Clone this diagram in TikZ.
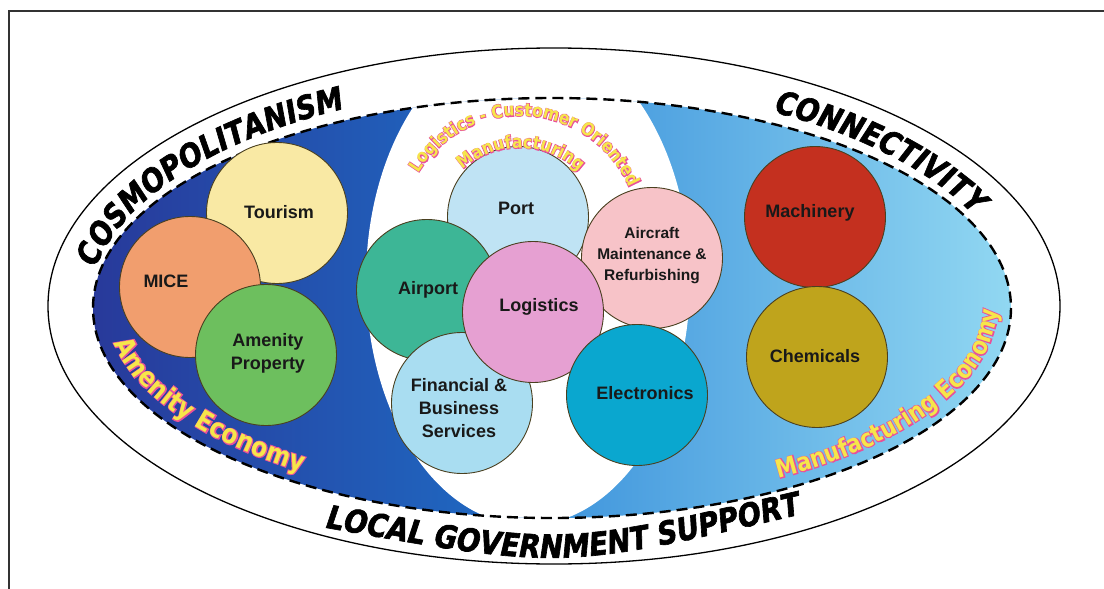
\documentclass[tikz,border=0pt]{standalone}
\usepackage{fontspec}
\setmainfont{Liberation Sans}
\newfontface\bandface[FakeStretch=0.86,FakeSlant=0.15,FakeBold=2]{DejaVu Sans Bold}
\newfontface\econface[FakeStretch=0.86]{DejaVu Sans Bold}
\newfontface\rimface[FakeStretch=0.86,FakeBold=7]{DejaVu Sans Bold}
\usetikzlibrary{decorations.text}

\definecolor{deepblue}{HTML}{28399A}
\definecolor{midblue}{HTML}{1E6EC6}
\definecolor{skyblue}{HTML}{3E94DC}
\definecolor{paleblue}{HTML}{92D8F2}
\definecolor{rimline}{HTML}{4A4020}
\definecolor{pinkedge}{HTML}{E8509A}
\definecolor{yellowfill}{HTML}{F6E64A}
\definecolor{tourismc}{HTML}{F9E9A4}
\definecolor{micec}{HTML}{F19E6E}
\definecolor{amenityc}{HTML}{6DBF5E}
\definecolor{portc}{HTML}{BFE3F4}
\definecolor{airportc}{HTML}{3DB696}
\definecolor{aircraftc}{HTML}{F7C3C8}
\definecolor{logisticsc}{HTML}{E6A0D2}
\definecolor{financec}{HTML}{A9DDF1}
\definecolor{electronc}{HTML}{0AA7CF}
\definecolor{machineryc}{HTML}{C4301F}
\definecolor{chemicalc}{HTML}{BFA41C}

\begin{document}
\begin{tikzpicture}[x=1pt,y=-1pt,
  blob/.style={circle,draw=rimline,line width=0.9pt,minimum size=141pt,inner sep=0pt},
  tag/.style={inner sep=0pt,align=center,text=black!90,font=\bfseries\fontsize{18}{23}\selectfont},
  smalltag/.style={tag,font=\bfseries\fontsize{15.5}{21}\selectfont},
  bandtext/.style={decorate,decoration={text along path,text align=center,
    text={|\bandface\fontsize{32}{32}\selectfont|#1}}},
  rimtext/.style 2 args={decorate,decoration={text along path,text align=center,
    text color=pinkedge,text={|\rimface\fontsize{#1}{#1}\selectfont|#2}}},
  facetext/.style 2 args={decorate,decoration={text along path,text align=center,
    text color=yellowfill,text={|\econface\fontsize{#1}{#1}\selectfont|#2}}}]
  \useasboundingbox (0,0) rectangle (1104,589);
  \draw[line width=1.5pt,black!80] (9,589) -- (9,11) -- (1104,11);

  % outer ring and the two economies
  \draw[line width=1.3pt] (554,306) ellipse[x radius=506,y radius=258];
  \begin{scope}
    \clip (552,308) ellipse[x radius=459,y radius=210];
    \shade[left color=deepblue,right color=midblue] (90,90) rectangle (545,525);
    \shade[left color=skyblue,right color=paleblue] (545,90) rectangle (1015,525);
    \fill[white] (528,280) ellipse[x radius=162,y radius=245];
  \end{scope}
  \draw[line width=2.4pt,dash pattern=on 11pt off 6pt] (552,308) ellipse[x radius=459,y radius=210];

  % circles
  \node[blob,fill=tourismc] (tourism) at (277,213) {};
  \node[blob,fill=micec] (mice) at (190,287) {};
  \node[blob,fill=amenityc] (amenity) at (266,355) {};
  \node[blob,fill=portc] (port) at (518,217) {};
  \node[blob,fill=airportc] (airport) at (427,290) {};
  \node[blob,fill=aircraftc] (aircraft) at (652,258) {};
  \node[blob,fill=financec] (finance) at (462,403) {};
  \node[blob,fill=logisticsc] (logistics) at (533,312) {};
  \node[blob,fill=electronc] (electronics) at (637,395) {};
  \node[blob,fill=machineryc] (machinery) at (815,217) {};
  \node[blob,fill=chemicalc] (chemicals) at (817,357) {};

  \node[tag] (tourismtag) at (279,212) {Tourism};
  \node[tag] (micetag) at (166,281) {MICE};
  \node[tag] (amenitytag) at (268,353) {Amenity\\Property};
  \node[tag] (porttag) at (516,208) {Port};
  \node[tag] (airporttag) at (428,290) {Airport};
  \node[smalltag] (aircrafttag) at (652,256) {Aircraft\\Maintenance \&\\Refurbishing};
  \node[tag] (financetag) at (459,408) {Financial \&\\Business\\Services};
  \node[tag] (logisticstag) at (539,307) {Logistics};
  \node[tag] (electronicstag) at (645,393) {Electronics};
  \node[tag] (machinerytag) at (810,213) {Machinery};
  \node[tag] (chemicalstag) at (815,356) {Chemicals};

  % ring words
  \path[bandtext=COSMOPOLITANISM] plot[domain=183:247,samples=33,variable=\t]
    ({552+464*cos(\t)},{308+223*sin(\t)});
  \path[bandtext=CONNECTIVITY] plot[domain=294:342,samples=17,variable=\t]
    ({552+464*cos(\t)},{308+223*sin(\t)});
  \path[bandtext={LOCAL GOVERNMENT SUPPORT}] (322,527) .. controls (562,570) .. (802,514);

  % economies: pink rim first, yellow face on top
  \foreach \look in {rimtext,facetext}{
    \path[\look={18}{Logistics - Customer Oriented}] plot[domain=204:344,samples=36,variable=\t]
      ({520+119*cos(\t)},{235+119*sin(\t)});
    \path[\look={18}{Manufacturing}] plot[domain=222:320,samples=15,variable=\t]
      ({520+87*cos(\t)},{235+87*sin(\t)});
    \path[\look={27}{Amenity Economy}] plot[domain=0:58,samples=30,variable=\t]
      ({552+445*cos(178-\t)},{308+198*sin(178-\t)});
    \path[\look={25}{Manufacturing Economy}] plot[domain=0:70,samples=36,variable=\t]
      ({552+445*cos(63-\t)},{308+198*sin(63-\t)});
  }
\end{tikzpicture}
\end{document}
